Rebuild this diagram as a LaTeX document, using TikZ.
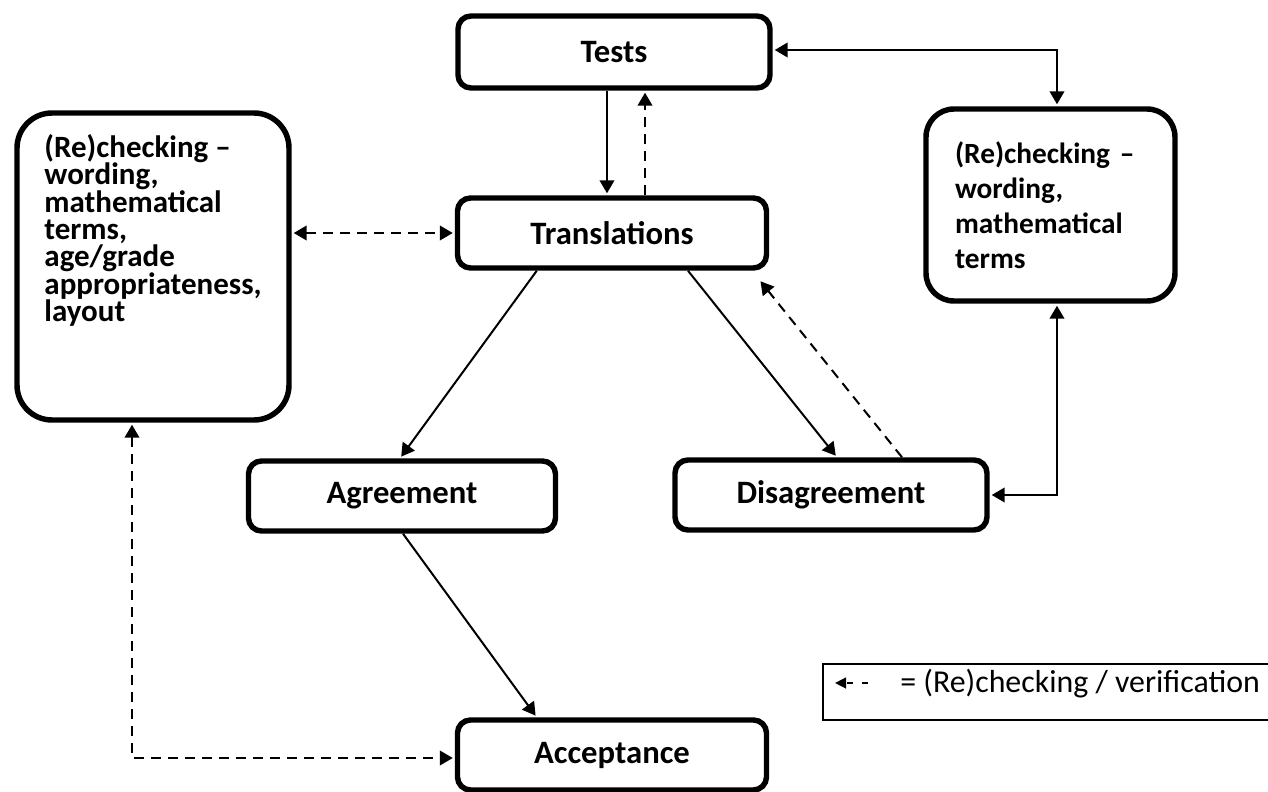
\documentclass[tikz,border=0pt]{standalone}
\usepackage{fontspec}
\setmainfont{Carlito}
\usetikzlibrary{arrows.meta,calc}
\begin{document}
\begin{tikzpicture}[x=0.75pt,y=-0.75pt,
  box/.style={draw,line width=4.1pt,rounded corners=9.75pt,inner sep=0pt,align=center,
    font=\bfseries\fontsize{24.5}{29}\selectfont},
  conn/.style={line width=1.5pt,-{Triangle[length=9.75pt,width=11pt]},shorten >=1.5pt},
  both/.style={line width=1.5pt,{Triangle[length=9.75pt,width=11pt]}-{Triangle[length=9.75pt,width=11pt]},shorten >=1.5pt,shorten <=1.5pt},
  dsh/.style={dash pattern=on 7.5pt off 5.25pt}]
\useasboundingbox (0,0) rectangle (1268,792);

\node[box,minimum width=234pt,minimum height=54pt] (tests) at (614,52) {Tests};
\node[box,minimum width=231.75pt,minimum height=52.5pt] (trans) at (612,233) {Translations};
\node[box,minimum width=230.25pt,minimum height=52.5pt] (agree) at (402,496) {Agreement};
\node[box,minimum width=234pt,minimum height=52.5pt] (disag) at (831,495) {Disagreement};
\node[box,minimum width=231.75pt,minimum height=52.5pt] (accept) at (612,755) {Acceptance};
\node[box,rounded corners=26.25pt,minimum width=204pt,minimum height=230.25pt,align=left,
  font=\bfseries\fontsize{23.25}{20.6}\selectfont] (leftbox) at (153,266.5)
  {(Re)checking –\\wording,\\mathematical\\terms,\\age/grade\\appropriateness,\\layout\rule[-57.75pt]{0pt}{0pt}};
\node[box,rounded corners=21pt,minimum width=186.75pt,minimum height=144pt,align=left,text width=143.25pt,
  font=\bfseries\fontsize{22}{26.25}\selectfont] (rightbox) at (1050.5,205)
  {(Re)checking –\\wording,\\mathematical\\terms};

% connectors
\draw[conn] ($(tests.south)+(-7,0)$) -- ($(trans.north)+(-5,0)$);
\draw[conn,dsh] ($(trans.north)+(33,0)$) -- ($(tests.south)+(31,0)$);
\draw[both] ($(tests.east)+(0,-2)$) -| ($(rightbox.north)+(6.5,0)$);
\draw[both] ($(rightbox.south)+(6.5,0)$) |- (disag.east);
\draw[both,dsh] (leftbox.east |- trans.west) -- (trans.west);
\draw[conn] ($(trans.south west)+(82,0)$) -- ($(agree.north)+(-2,0)$);
\draw[conn] ($(trans.south)+(76,0)$) -- ($(disag.north)+(6,0)$);
\draw[conn,dsh] ($(disag.north)+(71,0)$) -- ($(trans.south east)+(-10,9)$);
\draw[conn] ($(agree.south)+(1,0)$) -- ($(accept.north west)+(82,0)$);
\draw[both,dsh] ($(leftbox.south)+(-21,0)$) |- ($(accept.west)+(0,3)$);

% legend
\draw[line width=1.125pt] (823,664) rectangle (1290,720);
\node[font=\fontsize{23.9}{28}\selectfont,anchor=base west,inner sep=0pt] (legtext) at (900,692) {= (Re)checking / verification};
\coordinate (legA) at (835,683);
\coordinate (legB) at (868,683);
\draw[line width=1.6pt,dash pattern=on 4.5pt off 6.75pt,-{Triangle[length=8.25pt,width=8pt]}] (legB) -- (legA);
\end{tikzpicture}
\end{document}
